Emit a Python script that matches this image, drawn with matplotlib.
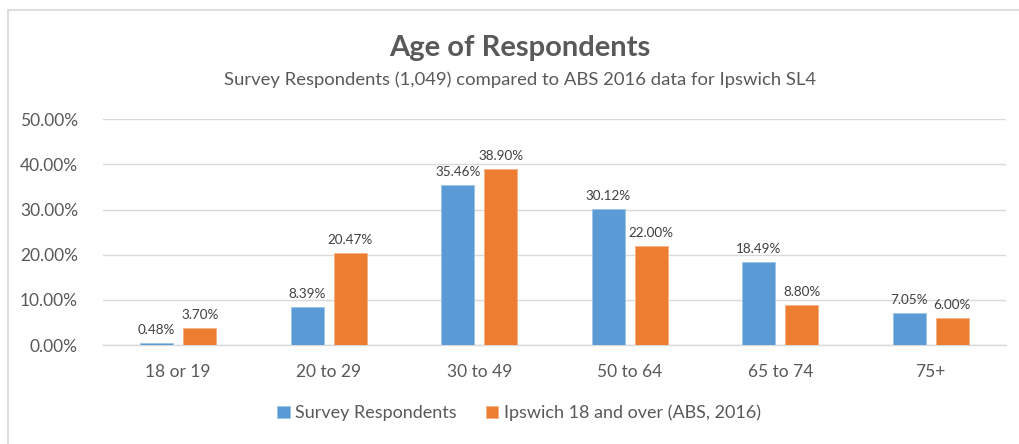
import matplotlib
matplotlib.use("Agg")
import matplotlib.pyplot as plt
import numpy as np

categories = ["18 or 19", "20 to 29", "30 to 49", "50 to 64", "65 to 74", "75+"]
survey = [0.48, 8.39, 35.46, 30.12, 18.49, 7.05]
abs2016 = [3.70, 20.47, 38.90, 22.00, 8.80, 6.00]
series_names = ["Survey Respondents", "Ipswich 18 and over (ABS, 2016)"]
yticks = [0, 10, 20, 30, 40, 50]

plt.rcParams['font.family'] = ['Lato', 'DejaVu Sans']

W, H = 1020, 444
fig = plt.figure(figsize=(W / 100, H / 100), dpi=100)
ax = fig.add_axes([103 / W, 1 - 345 / H, (1006 - 103) / W, (345 - 119.3) / H])

x = np.arange(len(categories))
bw = 0.22
off = 0.143
blue = "#5B9BD5"
orange = "#ED7D31"
b1 = ax.bar(x - off, survey, bw, color=blue, edgecolor="#9DC3E6", linewidth=0.6, label=series_names[0], zorder=3)
b2 = ax.bar(x + off, abs2016, bw, color=orange, edgecolor="#F4B183", linewidth=0.6, label=series_names[1], zorder=3)

for bars, vals in ((b1, survey), (b2, abs2016)):
    for r, v in zip(bars, vals):
        ax.annotate(f"{v:.2f}%", (r.get_x() + r.get_width() / 2, v), xytext=(0, 5),
                    textcoords="offset points", ha="center", va="bottom",
                    fontsize=9.7, color="#404040")

ax.set_xlim(-0.5, len(categories) - 0.5)
ax.set_ylim(0, 50)
ax.set_yticks(yticks)
ax.set_yticklabels([f"{t:.2f}%" for t in yticks])
ax.set_xticks(x)
ax.set_xticklabels(categories)
ax.tick_params(axis="both", length=0, labelsize=12.5, colors="#595959")
ax.tick_params(axis="x", pad=14)
ax.tick_params(axis="y", pad=18)
ax.grid(axis="y", color="#D9D9D9", linewidth=1, zorder=0)
for s in ["top", "right", "left"]:
    ax.spines[s].set_visible(False)
ax.spines["bottom"].set_color("#D9D9D9")
ax.spines["bottom"].set_linewidth(1)

fig.text(520 / W, 1 - 48 / H, "Age of Respondents", ha="center", va="center",
         fontsize=21, fontweight="bold", color="#595959")
fig.text(520 / W, 1 - 80 / H, "Survey Respondents (1,049) compared to ABS 2016 data for Ipswich SL4",
         ha="center", va="center", fontsize=13.3, color="#595959")

leg = fig.legend(handles=[b1, b2], loc="center", bbox_to_anchor=(519 / W, 1 - 413 / H),
                 ncol=2, frameon=False, fontsize=13, handlelength=0.7, handleheight=0.7,
                 handletextpad=0.3, columnspacing=1.6)
for t in leg.get_texts():
    t.set_color("#595959")

# chart border (only top and left edges visible in frame)
fig.add_artist(plt.Line2D([8 / W, 8 / W], [0, 1 - 10.5 / H], color="#D9D9D9", linewidth=1.2, transform=fig.transFigure))
fig.add_artist(plt.Line2D([8 / W, 1], [1 - 10.5 / H, 1 - 10.5 / H], color="#D9D9D9", linewidth=1.2, transform=fig.transFigure))

fig.savefig("out.png", dpi=100)
